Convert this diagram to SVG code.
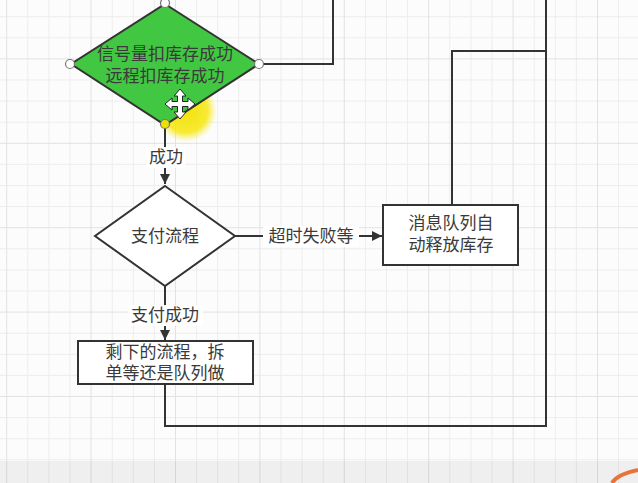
<svg xmlns="http://www.w3.org/2000/svg" width="638" height="483" viewBox="0 0 638 483">
<defs>
<style>
.grid{stroke:#ededed;stroke-width:1;fill:none}
.gmaj{stroke:#e2e2e2;stroke-width:1;fill:none}
.shape{stroke:#333;stroke-width:2}
.edge{stroke:#333;stroke-width:2;fill:none}
.t{font-family:"Liberation Sans","Noto Sans CJK SC",sans-serif;font-size:17px;fill:#3a3a3a;text-anchor:middle;dominant-baseline:central}
.lbl{fill:#fff}
.handle{fill:#fff;stroke:#777;stroke-width:1.2}
</style>
<marker id="arr" viewBox="0 0 10 10" refX="10" refY="5" markerWidth="5" markerHeight="5" orient="auto" markerUnits="strokeWidth">
<path d="M0,0 L10,5 L0,10 Z" fill="#333"/>
</marker>
<radialGradient id="glow" cx="0.5" cy="0.5" r="0.5">
<stop offset="0" stop-color="#f4e000" stop-opacity="0.95"/>
<stop offset="0.7" stop-color="#f6e600" stop-opacity="0.8"/>
<stop offset="1" stop-color="#f8ee40" stop-opacity="0"/>
</radialGradient>
</defs>
<rect width="638" height="483" fill="#fcfcfc"/>
<g id="grid">
<path class="grid" d="M27.8,0V483M48.9,0V483M70,0V483M112.2,0V483M133.3,0V483M154.4,0V483M196.6,0V483M217.7,0V483M238.8,0V483M281,0V483M302.1,0V483M323.2,0V483M365.4,0V483M386.5,0V483M407.6,0V483M449.8,0V483M470.9,0V483M492,0V483M534.2,0V483M555.3,0V483M576.4,0V483M618.6,0V483M0,16.7H638M0,37.8H638M0,80H638M0,101.1H638M0,122.2H638M0,164.4H638M0,185.5H638M0,206.6H638M0,248.8H638M0,269.9H638M0,291H638M0,333.2H638M0,354.3H638M0,375.4H638M0,417.6H638M0,438.7H638M0,459.8H638"/>
<path class="gmaj" d="M6.7,0V483M91.1,0V483M175.5,0V483M259.9,0V483M344.3,0V483M428.7,0V483M513.1,0V483M597.5,0V483M0,58.9H638M0,143.3H638M0,227.7H638M0,312.1H638M0,396.5H638"/>
<rect x="0" y="461" width="638" height="22" fill="#000" opacity="0.05"/>
</g>
<circle cx="186" cy="111" r="31" fill="url(#glow)"/>
<g id="edges">
<path class="edge" d="M259,64 H333 V0"/>
<path class="edge" d="M165,125 V184" marker-end="url(#arr)"/>
<path class="edge" d="M235,236 H382" marker-end="url(#arr)"/>
<path class="edge" d="M452,205 V51 H546"/>
<path class="edge" d="M546,0 V426 H165 V384"/>
<path class="edge" d="M165,286 V340" marker-end="url(#arr)"/>
<rect class="lbl" x="146" y="147" width="39" height="21"/>
<text class="t" x="166" y="157">成功</text>
<rect class="lbl" x="263" y="226" width="96" height="21"/>
<text class="t" x="311" y="236">超时失败等</text>
<rect class="lbl" x="128" y="305" width="75" height="21"/>
<text class="t" x="165" y="315">支付成功</text>
</g>
<g id="n1">
<path class="shape" d="M165,4 L259,64 L165,125 L71,64 Z" fill="#42c742"/>
<text class="t" x="165" y="54">信号量扣库存成功</text>
<text class="t" x="165" y="76">远程扣库存成功</text>
<circle class="handle" cx="165" cy="3" r="4.5"/>
<circle class="handle" cx="70" cy="64" r="4.5"/>
<circle class="handle" cx="259" cy="64" r="4.5"/>
<circle cx="165" cy="124" r="4.5" fill="#f0e000" stroke="#777" stroke-width="1.2"/>
</g>
<g id="cursor">
<path d="M180,89 L186,96 L182.5,96 L182.5,101.5 L188,101.5 L188,98 L195,104 L188,110 L188,106.5 L182.5,106.5 L182.5,112 L186,112 L180,119 L174,112 L177.5,112 L177.5,106.5 L172,106.5 L172,110 L165,104 L172,98 L172,101.5 L177.5,101.5 L177.5,96 L174,96 Z" fill="#fff" stroke="#222" stroke-width="1"/>
</g>
<g id="n2">
<path class="shape" d="M165,186 L235,236 L165,286 L95,236 Z" fill="#fff"/>
<text class="t" x="165" y="236">支付流程</text>
</g>
<g id="n3">
<rect class="shape" x="383" y="205" width="135" height="60" fill="#fff"/>
<text class="t" x="451" y="223">消息队列自</text>
<text class="t" x="451" y="245">动释放库存</text>
</g>
<g id="n4">
<rect class="shape" x="78" y="341" width="175" height="43" fill="#fff"/>
<text class="t" x="165" y="352">剩下的流程，拆</text>
<text class="t" x="165" y="373">单等还是队列做</text>
</g>
<path d="M612,483 Q618,474 638,470" fill="none" stroke="#e8743b" stroke-width="4"/>
</svg>
